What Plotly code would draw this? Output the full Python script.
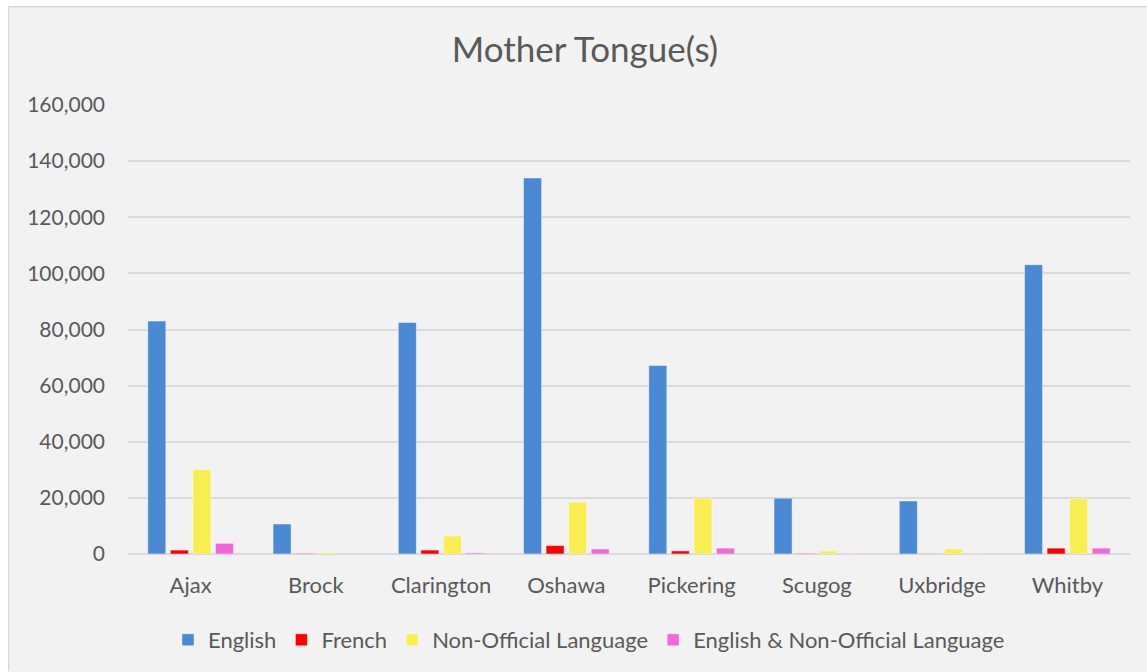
import plotly.graph_objects as go

categories = ["Ajax", "Brock", "Clarington", "Oshawa", "Pickering", "Scugog", "Uxbridge", "Whitby"]
english = [83000, 10700, 82500, 134000, 67200, 19900, 18900, 103100]
french = [1400, 200, 1400, 3000, 1100, 200, 100, 2100]
non_official = [30100, 500, 6400, 18500, 19900, 1100, 1800, 19700]
eng_non_official = [3800, 200, 400, 1800, 2100, 100, 100, 2100]
y_ticks = [0, 20000, 40000, 60000, 80000, 100000, 120000, 140000, 160000]
y_tick_labels = ["0", "20,000", "40,000", "60,000", "80,000", "100,000", "120,000", "140,000", "160,000"]

series = [
    ("English", english, "#4a89d3"),
    ("French", french, "#ff0000"),
    ("Non-Official Language", non_official, "#f8ee52"),
    ("English & Non-Official Language", eng_non_official, "#f266d8"),
]

fig = go.Figure()
for name, vals, color in series:
    fig.add_trace(go.Bar(
        x=categories, y=vals, name=name,
        marker=dict(color=color, line=dict(color="rgba(255,255,255,0.45)", width=1)),
    ))

OX, OY = 8, 6  # page offset of the chart
W, H = 1147 - OX, 672 - OY
ml, mr, mt, mb = 120, 17, 99, 117
pw, ph = W - ml - mr, H - mt - mb

fig.update_layout(
    width=W, height=H,
    paper_bgcolor="#f2f2f2", plot_bgcolor="#f2f2f2",
    margin=dict(l=ml, r=mr, t=mt, b=mb),
    barmode="group", bargap=0.28, bargroupgap=0.2,
    font=dict(family="Lato, 'Open Sans', sans-serif", color="#595959", size=21),
    title=dict(text="Mother Tongue(s)", xref="container", x=577 / W, xanchor="center",
               y=1 - 44 / H, yanchor="middle", font=dict(size=35, color="#595959")),
    xaxis=dict(showgrid=False, showline=False, ticks="", tickfont=dict(size=22),
               ticklabelstandoff=16),
    yaxis=dict(range=[0, 160000], tickvals=y_ticks, ticktext=y_tick_labels,
               showgrid=True, gridcolor="#d9d9d9", gridwidth=1.5, zeroline=True,
               zerolinecolor="#d9d9d9", zerolinewidth=1.5, showline=False, ticks="",
               tickfont=dict(size=21), ticklabelstandoff=22),
    legend=dict(orientation="h", x=(581 - ml) / pw, xanchor="center",
                y=-(634 - mt - ph) / ph, yanchor="middle",
                font=dict(size=22, color="#595959"), bgcolor="rgba(0,0,0,0)",
                itemwidth=30, traceorder="normal"),
    shapes=[
        dict(type="line", xref="paper", yref="paper", x0=-ml / pw, x1=1 + mr / pw,
             y0=1 + (mt - 0.5) / ph, y1=1 + (mt - 0.5) / ph, line=dict(color="#d9d9d9", width=1.5)),
        dict(type="line", xref="paper", yref="paper", x0=(0.5 - ml) / pw, x1=(0.5 - ml) / pw,
             y0=-mb / ph, y1=1 + mt / ph, line=dict(color="#d9d9d9", width=1.5)),
    ],
)

fig.write_html("out.html", post_script="document.body.style.margin='%dpx 0 0 %dpx';document.body.style.overflow='hidden';" % (OY, OX))
